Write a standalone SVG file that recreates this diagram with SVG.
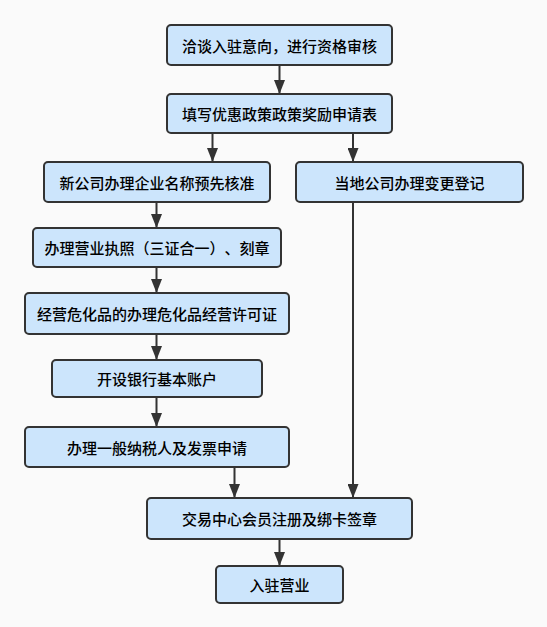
<svg xmlns="http://www.w3.org/2000/svg" width="547" height="627" viewBox="0 0 547 627">
<style>
.box{fill:#cce5fc;stroke:#333;stroke-width:2}
.t{font-family:"Noto Sans CJK SC","Liberation Sans",sans-serif;font-size:15px;fill:#000;text-anchor:middle;dominant-baseline:central;text-spacing-trim:space-all;font-weight:500}
.c{stroke:#333;stroke-width:2;fill:none;marker-end:url(#ah)}
</style>
<defs>
<marker id="ah" viewBox="0 0 14 11" refX="14" refY="5.5" markerWidth="14" markerHeight="11" markerUnits="userSpaceOnUse" orient="auto">
<path d="M0,0 L14,5.5 L0,11 Z" fill="#333"/>
</marker>
</defs>
<rect width="547" height="627" fill="#fafafa"/>
<g id="connectors">
<line class="c" x1="279.5" y1="65" x2="279.5" y2="94"/>
<line class="c" x1="212.5" y1="133" x2="212.5" y2="162"/>
<line class="c" x1="353" y1="133" x2="353" y2="162"/>
<line class="c" x1="156.5" y1="202" x2="156.5" y2="228"/>
<line class="c" x1="156.5" y1="267" x2="156.5" y2="293"/>
<line class="c" x1="156.5" y1="334" x2="156.5" y2="360"/>
<line class="c" x1="156.5" y1="397" x2="156.5" y2="427"/>
<line class="c" x1="234.5" y1="467" x2="234.5" y2="498"/>
<line class="c" x1="353" y1="202" x2="353" y2="498"/>
<line class="c" x1="279.5" y1="539" x2="279.5" y2="566"/>
</g>
<g id="n1"><rect class="box" x="167" y="25" width="225" height="40" rx="4"/><text class="t" x="279.5" y="45">洽谈入驻意向，进行资格审核</text></g>
<g id="n2"><rect class="box" x="167" y="94" width="225" height="39" rx="4"/><text class="t" x="279.5" y="113.5">填写优惠政策政策奖励申请表</text></g>
<g id="n3"><rect class="box" x="44" y="162" width="226" height="40" rx="4"/><text class="t" x="157" y="182">新公司办理企业名称预先核准</text></g>
<g id="n4"><rect class="box" x="296" y="162" width="227" height="40" rx="4"/><text class="t" x="409.5" y="182">当地公司办理变更登记</text></g>
<g id="n5"><rect class="box" x="33" y="228" width="248" height="39" rx="4"/><text class="t" x="157" y="247.5">办理营业执照（三证合一）、刻章</text></g>
<g id="n6"><rect class="box" x="25" y="293" width="264" height="41" rx="4"/><text class="t" x="157" y="313.5">经营危化品的办理危化品经营许可证</text></g>
<g id="n7"><rect class="box" x="52" y="360" width="210" height="37" rx="4"/><text class="t" x="157" y="378.5">开设银行基本账户</text></g>
<g id="n8"><rect class="box" x="25" y="427" width="264" height="40" rx="4"/><text class="t" x="157" y="447">办理一般纳税人及发票申请</text></g>
<g id="n9"><rect class="box" x="147" y="498" width="265" height="41" rx="4"/><text class="t" x="279.5" y="518.5">交易中心会员注册及绑卡签章</text></g>
<g id="n10"><rect class="box" x="216" y="566" width="127" height="37" rx="4"/><text class="t" x="279.5" y="584.5">入驻营业</text></g>
</svg>
